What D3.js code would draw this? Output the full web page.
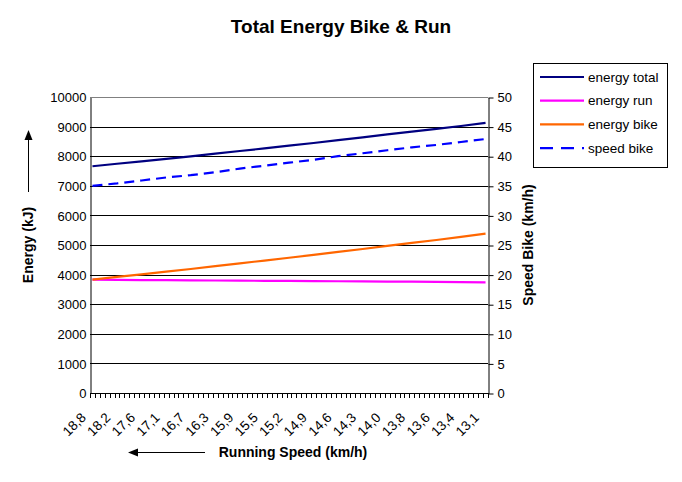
<!DOCTYPE html>
<html><head><meta charset="utf-8">
<script src="https://cdn.jsdelivr.net/npm/d3@7"></script>
<style>
body{margin:0;background:#fff}
svg{display:block}
text{font-family:"Liberation Sans",Arial,Helvetica,sans-serif;fill:#000}
</style>
</head><body>
<svg id="c" width="682" height="482"></svg>
<script>
// ---- data (values read at the labelled categories) ----
const speedLabels = ["18,8","18,2","17,6","17,1","16,7","16,3","15,9","15,5","15,2","14,9","14,6","14,3","14,0","13,8","13,6","13,4","13,1"];
const categoriesPerLabel = 5;
const categoryCount = 81;
const energyTotal = [7660,7745,7825,7910,7995,8085,8175,8265,8355,8445,8540,8635,8735,8830,8925,9020,9125];
const energyRun   = [3830,3825,3815,3810,3805,3800,3795,3790,3785,3780,3775,3770,3765,3760,3755,3745,3740];
const energyBike  = [3830,3920,4010,4100,4190,4285,4380,4475,4570,4665,4765,4865,4970,5070,5170,5275,5385];
const speedBike   = [35.0,35.4,35.9,36.4,36.8,37.3,37.9,38.4,38.9,39.4,40.0,40.5,41.0,41.5,41.9,42.4,42.9];
const energyTicks = d3.range(0, 10001, 1000);
const speedTicks = d3.range(0, 51, 5);

const series = [
  {name:"energy total", values:energyTotal, color:"#000080", axis:"L", dash:null},
  {name:"energy run",   values:energyRun,   color:"#FF00FF", axis:"L", dash:null},
  {name:"energy bike",  values:energyBike,  color:"#FF6600", axis:"L", dash:null},
  {name:"speed bike",   values:speedBike,   color:"#0000FF", axis:"R", dash:"10,6"}
];

const svg = d3.select("#c");
const L = 90, R = 488, T = 97, B = 393;

const x = d3.scaleLinear().domain([-0.5, categoryCount - 0.5]).range([L, R]);
const yL = d3.scaleLinear().domain([0, 10000]).range([B, T]);
const yR = d3.scaleLinear().domain([0, 50]).range([B, T]);

// title
svg.append("text").attr("x", 341).attr("y", 33).attr("text-anchor","middle")
  .style("font-size","19px").style("font-weight","bold").text("Total Energy Bike & Run");

// gridlines
svg.append("g").selectAll("line").data(energyTicks.filter(d => d > 0)).join("line")
  .attr("x1", L).attr("x2", R)
  .attr("y1", d => Math.round(yL(d)) + 0.5).attr("y2", d => Math.round(yL(d)) + 0.5)
  .attr("stroke", d => d === 10000 ? "#808080" : "#000").attr("stroke-width", 1);

// left axis
const gL = svg.append("g").attr("transform", `translate(${L + 0.5},0.5)`)
  .call(d3.axisLeft(yL).tickValues(energyTicks).tickFormat(d3.format("d")).tickSize(0).tickPadding(4));
gL.select(".domain").attr("stroke","#000");
gL.selectAll("text").style("font-size","13px").style("font-family","'Liberation Sans',Arial,sans-serif").attr("fill","#000");

// right axis
const gR = svg.append("g").attr("transform", `translate(${R + 0.5},0.5)`)
  .call(d3.axisRight(yR).tickValues(speedTicks).tickFormat(d3.format("d")).tickSize(5).tickPadding(4).tickSizeOuter(0));
gR.select(".domain").attr("stroke","#000");
gR.selectAll("line").attr("stroke","#000");
gR.selectAll("text").style("font-size","13px").style("font-family","'Liberation Sans',Arial,sans-serif").attr("fill","#000");

// bottom axis
svg.append("line").attr("x1", L).attr("x2", R + 1).attr("y1", B + 0.5).attr("y2", B + 0.5).attr("stroke","#000");
svg.append("g").selectAll("line").data(d3.range(0, categoryCount + 1)).join("line")
  .attr("x1", i => Math.round(x(i - 0.5)) + 0.5).attr("x2", i => Math.round(x(i - 0.5)) + 0.5)
  .attr("y1", B).attr("y2", B + 5).attr("stroke","#000");
svg.append("g").selectAll("text").data(speedLabels).join("text")
  .attr("transform", (d, k) => `translate(${x(k * categoriesPerLabel) - 9},415) rotate(-45)`)
  .attr("text-anchor","end").attr("dy","0.35em").style("font-size","13.5px").text(d => d);

// lines
series.forEach(s => {
  const yy = s.axis === "L" ? yL : yR;
  const line = d3.line().x((d, k) => x(k * categoriesPerLabel)).y(d => yy(d));
  svg.append("path").datum(s.values).attr("d", line)
    .attr("fill","none").attr("stroke", s.color).attr("stroke-width", 2.2)
    .attr("stroke-dasharray", s.dash);
});

// axis titles
svg.append("text").attr("transform","translate(28,245) rotate(-90)").attr("text-anchor","middle")
  .attr("dy","0.35em").style("font-size","14px").style("font-weight","bold").text("Energy (kJ)");
svg.append("text").attr("transform","translate(528,245) rotate(-90)").attr("text-anchor","middle")
  .attr("dy","0.35em").style("font-size","14px").style("font-weight","bold").text("Speed Bike (km/h)");
svg.append("text").attr("x", 293).attr("y", 452).attr("text-anchor","middle")
  .attr("dy","0.35em").style("font-size","14px").style("font-weight","bold").text("Running Speed (km/h)");

// arrows
svg.append("line").attr("x1",28.5).attr("x2",28.5).attr("y1",192).attr("y2",138).attr("stroke","#000");
svg.append("path").attr("d","M28.5,130 L24.5,140 L32.5,140 Z").attr("fill","#000");
svg.append("line").attr("x1",205).attr("x2",136).attr("y1",452.5).attr("y2",452.5).attr("stroke","#000");
svg.append("path").attr("d","M128,452.5 L138,448.5 L138,456.5 Z").attr("fill","#000");

// legend
const lg = svg.append("g");
lg.append("rect").attr("x",533.5).attr("y",63.5).attr("width",134).attr("height",104)
  .attr("fill","#fff").attr("stroke","#000");
const rowY = d => 77 + d * 23.7;
series.forEach((s, i) => {
  lg.append("line").attr("x1",540).attr("x2",584).attr("y1",rowY(i)).attr("y2",rowY(i))
    .attr("stroke", s.color).attr("stroke-width",2.2).attr("stroke-dasharray", s.dash ? "13,8" : null);
  lg.append("text").attr("x",588).attr("y",rowY(i)).attr("dy","0.35em").style("font-size","13.5px").text(s.name);
});
</script>
</body></html>
